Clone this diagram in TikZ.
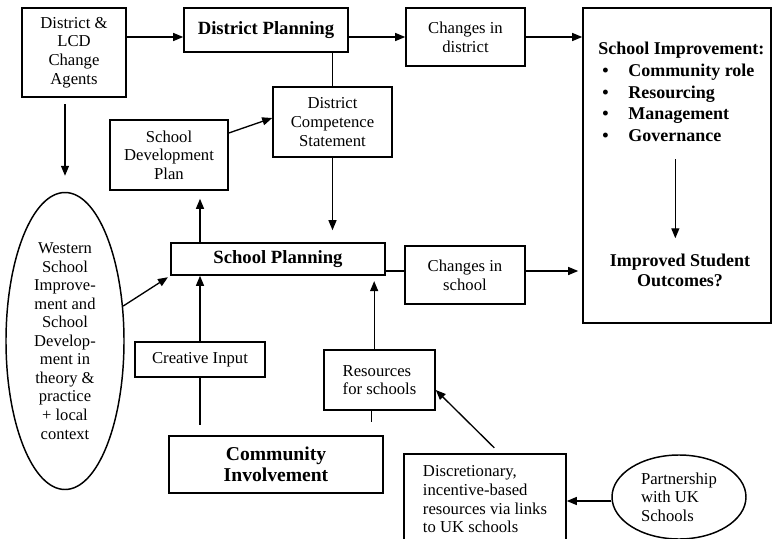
\documentclass[tikz,border=0pt]{standalone}
\usepackage{fontspec}
\setmainfont{Liberation Serif}
\usetikzlibrary{arrows.meta,shapes.geometric}

\begin{document}
\begin{tikzpicture}[
  x=0.75pt,
  y=-0.75pt,
  font=\fontsize{12.5}{14}\selectfont,
  box/.style={draw, line width=1.2pt, align=center, inner sep=2pt},
  oval/.style={draw, ellipse, line width=1.1pt, align=center, inner sep=0pt},
  head/.style={font=\fontsize{14}{16}\selectfont\bfseries},
  link/.style={line width=1pt},
  flow/.style={link, -{Triangle[length=7.5pt,width=6pt]}}
]

\useasboundingbox (0,0) rectangle (772,539);
\clip (0,0) rectangle (772,539);

% District level.
\node[box, minimum width=78pt, minimum height=66.75pt] (agents) at (74,52.5)
  {District \&\\LCD\\Change\\Agents};
\node[box, head, minimum width=123pt, minimum height=33pt] (dplan) at (266,30)
  {District Planning};
\node[box, minimum width=89.25pt, minimum height=43.5pt] (cdist) at (465.5,37)
  {Changes in\\district};
\node[box, minimum width=89.25pt, minimum height=52.5pt] (dcomp) at (332.5,122)
  {District\\Competence\\Statement};
\node[box, minimum width=88.5pt, minimum height=52.5pt] (sdp) at (169,155)
  {School\\Development\\Plan};

% Outcome box.
\node[box, minimum width=141pt, minimum height=236.25pt] (improve) at (677,165.5) {};
\node[anchor=north west, align=left, inner sep=0pt,
  font=\fontsize{13.5}{16.3}\selectfont\bfseries] (aspects) at (598,42)
  {School Improvement:\\
   \hspace*{3pt}\makebox[19.5pt][l]{\textbullet}Community role\\
   \hspace*{3pt}\makebox[19.5pt][l]{\textbullet}Resourcing\\
   \hspace*{3pt}\makebox[19.5pt][l]{\textbullet}Management\\
   \hspace*{3pt}\makebox[19.5pt][l]{\textbullet}Governance};
\node[align=center, font=\fontsize{13.5}{15}\selectfont\bfseries] (outcome) at (680,270)
  {Improved Student\\Outcomes?};

% School level.
\node[oval, minimum width=88.5pt, minimum height=222.75pt, font=\fontsize{12.4}{13.9}\selectfont]
  (west) at (65,341)
  {Western\\School\\Improve-\\ment and\\School\\Develop-\\ment in\\theory \&\\practice\\+ local\\context};
\node[box, head, minimum width=160.5pt, minimum height=24pt] (splan) at (278,259)
  {School Planning};
\node[box, minimum width=90pt, minimum height=43.5pt] (cschool) at (465,275)
  {Changes in\\school};
\node[box, minimum width=97.5pt, minimum height=26.25pt] (cinput) at (200,359.5)
  {Creative Input};
\node[box, align=left, minimum width=83.25pt, minimum height=45pt] (resources) at (379.5,380)
  {Resources\\for schools};
\node[box, minimum width=160.5pt, minimum height=42.75pt,
  font=\fontsize{14.7}{15.8}\selectfont\bfseries] (community) at (276,464.5)
  {Community\\Involvement};
\node[box, align=left, minimum width=121.5pt, minimum height=68.25pt] (disc) at (485,499.5)
  {Discretionary,\\incentive-based\\resources via links\\to UK schools};
\node[oval, align=left, minimum width=100.5pt, minimum height=63pt] (partner) at (679,497)
  {Partnership\\with UK\\Schools};

% Top row.
\draw[flow] (agents.east |- cdist) -- (dplan.west |- cdist);
\draw[flow] (dplan.east |- cdist) -- (cdist.west);
\draw[flow] (cdist.east) -- (improve.west |- cdist.east);
\draw[link] (dcomp.north |- dplan.south) -- (dcomp.north);
\draw[flow, shorten >=9pt] (dcomp.south) -- (dcomp.south |- splan.north);
\draw[flow] ([yshift=16.5pt]sdp.east) -- ([yshift=3pt]dcomp.west);
\draw[flow, shorten <=5pt, shorten >=12pt] (west.north |- agents.south) -- (west.north);

% Into and out of school planning.
\draw[flow, shorten >=6pt] (cinput.north |- splan.north) -- (cinput.north |- sdp.south);
\draw[flow] (cinput.north) -- (cinput.north |- splan.south);
\draw[flow, shorten >=2pt] (west.31) -- (splan.south west);
\draw[flow, shorten >=4pt] ([xshift=-4pt]resources.north) -- ([xshift=-4pt]resources.north |- splan.south);
\draw[link, shorten >=8pt] (cinput.south) -- (cinput.south |- community.north);
\draw[link, shorten >=10pt] ([xshift=-6pt]resources.south) -- ([xshift=-6pt]resources.south |- community.north);
\draw[link] ([yshift=3pt]cschool.west -| splan.east) -- ([yshift=3pt]cschool.west);
\draw[flow, shorten >=3pt] ([yshift=3pt]cschool.east) -- ([yshift=3pt]cschool.east -| improve.west);

% Outside resources.
\draw[flow] ([xshift=7pt,yshift=4pt]disc.north) -- ([yshift=-7.5pt]resources.east);
\draw[flow] ([yshift=-3pt]partner.west) -- ([yshift=-3pt]partner.west -| disc.east);
\draw[flow, shorten <=13pt, shorten >=8pt] ([xshift=-3.5pt]outcome.north |- aspects.south)
  -- ([xshift=-3.5pt]outcome.north);

\end{tikzpicture}
\end{document}
